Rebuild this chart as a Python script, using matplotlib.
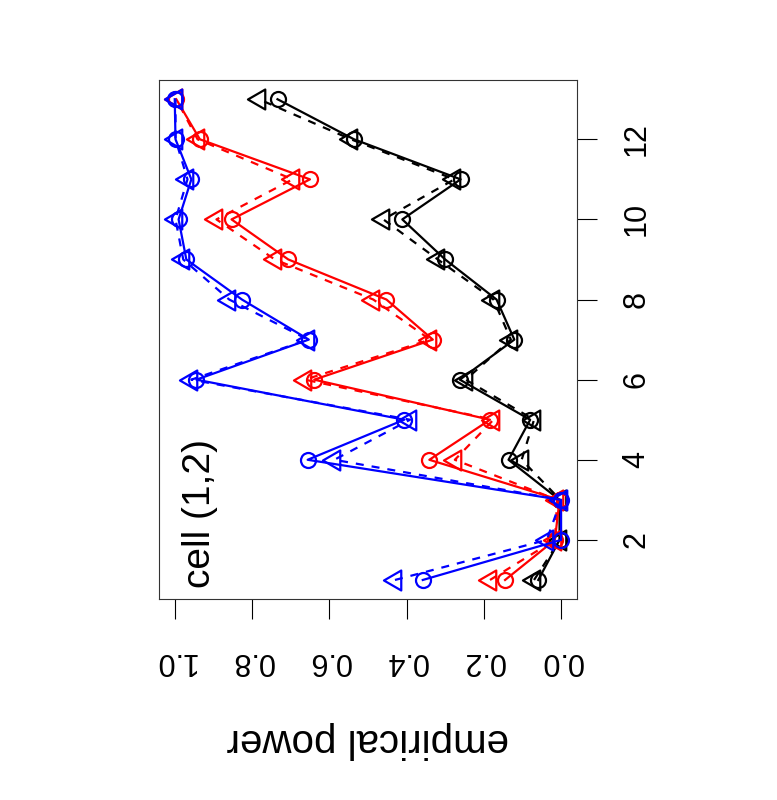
import matplotlib
matplotlib.use("Agg")
import matplotlib.pyplot as plt
from matplotlib.path import Path

plt.rcParams['font.family'] = ['Liberation Sans', 'DejaVu Sans']

# sample size index (1..13) and empirical power of each method
n_vals = [1, 2, 3, 4, 5, 6, 7, 8, 9, 10, 11, 12, 13]

black_solid = [0.059, 0.004, 0.004, 0.136, 0.080, 0.262, 0.121, 0.167, 0.300, 0.411, 0.260, 0.536, 0.734]
black_dash = [0.070, 0.003, 0.002, 0.102, 0.070, 0.247, 0.130, 0.175, 0.319, 0.460, 0.276, 0.544, 0.782]
red_solid = [0.145, 0.016, 0.004, 0.341, 0.184, 0.639, 0.332, 0.452, 0.706, 0.853, 0.650, 0.935, 0.996]
red_dash = [0.184, 0.016, 0.010, 0.275, 0.175, 0.663, 0.339, 0.486, 0.741, 0.892, 0.695, 0.941, 0.996]
blue_solid = [0.358, 0.000, 0.000, 0.656, 0.406, 0.944, 0.653, 0.826, 0.970, 0.990, 0.957, 0.998, 1.000]
blue_dash = [0.430, 0.037, 0.000, 0.587, 0.391, 0.957, 0.655, 0.859, 0.978, 0.998, 0.967, 0.998, 0.998]

power_ticks = [0.0, 0.2, 0.4, 0.6, 0.8, 1.0]
n_ticks = [2, 4, 6, 8, 10, 12]

# R style triangle (pch=2) turned on its side, centred on its centroid
tri = Path([(-1.0, 0.0), (0.5, 0.866), (0.5, -0.866), (-1.0, 0.0)],
           [Path.MOVETO, Path.LINETO, Path.LINETO, Path.CLOSEPOLY])

fig = plt.figure(figsize=(7.77, 8.0), dpi=100)
ax = fig.add_axes([0.205, 0.251, 0.537, 0.649])

series = [
    (black_solid, 'black', '-', 'o', 10.8),
    (black_dash, 'black', '--', tri, 16.6),
    (red_solid, 'red', '-', 'o', 10.8),
    (red_dash, 'red', '--', tri, 16.6),
    (blue_solid, 'blue', '-', 'o', 10.8),
    (blue_dash, 'blue', '--', tri, 16.6),
]
for vals, col, ls, mk, ms in series:
    line, = ax.plot(vals, n_vals, color=col, linestyle=ls, lw=1.6,
                    marker=mk, markersize=ms, markerfacecolor='none',
                    markeredgecolor=col, markeredgewidth=1.6)
    if ls == '--':
        line.set_dashes((3.6, 3.6))

ax.set_xlim(1.04, -0.04)
ax.set_ylim(0.52, 13.48)

ax.set_xticks(power_ticks)
ax.set_xticklabels([f"{t:.1f}" for t in power_ticks], rotation=180, fontsize=22)
ax.yaxis.tick_right()
ax.set_yticks(n_ticks)
ax.set_yticklabels([str(t) for t in n_ticks], rotation=90, va='center', fontsize=22)
ax.tick_params(axis='x', direction='out', length=14.4, width=0.8, pad=19)
ax.tick_params(axis='y', direction='out', length=14.4, width=0.8, pad=18)

for sp in ax.spines.values():
    sp.set_linewidth(0.8)
    sp.set_color('#333333')

ax.text(0.054, 0.022, "cell (1,2)", rotation=90, transform=ax.transAxes,
        ha='left', va='bottom', fontsize=28)

fig.text(0.473, 0.075, "empirical power", rotation=180,
         ha='center', va='center', fontsize=29)

fig.savefig("out.png", dpi=100)
